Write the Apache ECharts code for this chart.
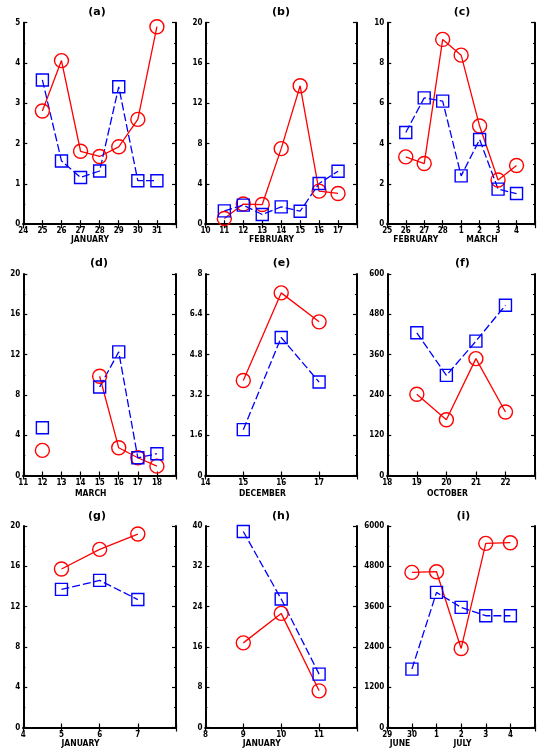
<!DOCTYPE html>
<html>
<head>
<meta charset="utf-8">
<script src="https://cdn.jsdelivr.net/npm/echarts@6/dist/echarts.min.js"></script>
<style>html,body{margin:0;padding:0;background:#fff}#c{width:538px;height:750px}</style>
</head>
<body>
<div id="c"></div>
<script>
// ---- data ----
const aTicks = ['24','25','26','27','28','29','30','31',''];
const aDays  = ['25','26','27','28','29','30','31'];
const aRed   = [2.81,4.06,1.81,1.68,1.92,2.60,4.90];
const aBlue  = [3.58,1.57,1.16,1.32,3.41,1.08,1.08];

const bTicks = ['10','11','12','13','14','15','16','17',''];
const bDays  = ['11','12','13','14','15','16','17'];
const bRed   = [0.56,2.00,1.95,7.50,13.74,3.28,3.05];
const bBlue  = [1.32,1.89,0.96,1.72,1.29,4.04,5.26];

const cTicks = ['25','26','27','28','1','2','3','4',''];
const cDays  = ['26','27','28','1','2','3','4'];
const cRed   = [3.34,3.01,9.17,8.39,4.87,2.19,2.91];
const cBlue  = [4.55,6.27,6.11,2.40,4.20,1.74,1.52];

const dTicks = ['11','12','13','14','15','16','17','18',''];
const dDays  = ['12','13','14','15','16','17','18'];
const dRed   = [2.49,'-','-',9.85,2.75,1.76,0.93];
const dBlue  = [4.74,'-','-',8.79,12.27,1.76,2.16];

const eTicks = ['14','15','16','17',''];
const eDays  = ['15','16','17'];
const eRed   = [3.77,7.25,6.10];
const eBlue  = [1.82,5.48,3.71];

const fTicks = ['18','19','20','21','22',''];
const fDays  = ['19','20','21','22'];
const fRed   = [242,166,348,189];
const fBlue  = [425,298,400,507];

const gTicks = ['4','5','6','7',''];
const gDays  = ['5','6','7'];
const gRed   = [15.73,17.68,19.20];
const gBlue  = [13.71,14.60,12.70];

const hTicks = ['8','9','10','11',''];
const hDays  = ['9','10','11'];
const hRed   = [16.8,22.65,7.28];
const hBlue  = [38.9,25.5,10.6];

const iTicks = ['29','30','1','2','3','4',''];
const iDays  = ['30','1','2','3','4'];
const iRed   = [4619,4639,2354,5483,5503];
const iBlue  = [1738,4023,3576,3328,3328];

const titles = ['(a)','(b)','(c)','(d)','(e)','(f)','(g)','(h)','(i)'];
const yMaxes = [5,20,10,20,8,600,20,40,6000];
const yIntervals = [1,4,2,4,1.6,120,4,8,1200];
const xTitles = [['JANUARY'],['FEBRUARY'],['FEBRUARY','MARCH'],['MARCH'],['DECEMBER'],['OCTOBER'],['JANUARY'],['JANUARY'],['JUNE','JULY']];

const panels = [
  [aTicks,aDays,aRed,aBlue],[bTicks,bDays,bRed,bBlue],[cTicks,cDays,cRed,cBlue],
  [dTicks,dDays,dRed,dBlue],[eTicks,eDays,eRed,eBlue],[fTicks,fDays,fRed,fBlue],
  [gTicks,gDays,gRed,gBlue],[hTicks,hDays,hRed,hBlue],[iTicks,iDays,iRed,iBlue]
];

// ---- layout ----
const colLeft = [23.3,205.4,387.3];
const colWidth = [152.7,151.6,151];
const rowTop = [22.7,274,526];
const plotH = 201.5;
const titleY = [12.5,263.3,515.7];
const titleX = [[97,281,462],[99,281.5,462.3],[97,281,463.3]];
const xTitleY = [239.3,493.3,743.3];
const xTitlePos = [[90],[271.6],[415.8,482],[90.7],[262.5],[447.5],[80.5],[261.7],[400,462.5]];

const FONT = '"DejaVu Sans Condensed", "DejaVu Sans", sans-serif';
const TFONT = '"DejaVu Sans", sans-serif';
const lab = {fontFamily:FONT,fontWeight:'bold',fontSize:8,color:'#000'};

const grids=[],xAxes=[],yAxes=[],series=[],graphics=[];
panels.forEach((p,k)=>{
  const r=Math.floor(k/3), c=k%3;
  const [ticks,days,red,blue]=p;
  grids.push({left:colLeft[c],top:rowTop[r],width:colWidth[c],height:plotH,show:false});
  const axBase = {
    type:'category',data:ticks,boundaryGap:false,gridIndex:k,
    axisLine:{show:true,lineStyle:{color:'#000',width:2}},
    axisTick:{show:true,inside:true,length:4,interval:0,lineStyle:{color:'#000',width:1.2}},
    splitLine:{show:false}
  };
  xAxes.push(Object.assign({},axBase,{position:'bottom',
    axisLabel:Object.assign({},lab,{interval:0,margin:3})}));
  xAxes.push(Object.assign({},axBase,{position:'top',axisLabel:{show:false}}));
  const yBase = {
    type:'value',gridIndex:k,min:0,max:yMaxes[k],interval:yIntervals[k],
    axisLine:{show:true,lineStyle:{color:'#000',width:2}},
    axisTick:{show:true,inside:true,length:4,lineStyle:{color:'#000',width:1.2}},
    minorTick:{show:true,splitNumber:2,length:2,lineStyle:{color:'#000',width:1}},
    splitLine:{show:false}
  };
  yAxes.push(Object.assign({},yBase,{position:'left',
    axisLabel:Object.assign({},lab,{margin:3,formatter:v=>String(+v.toFixed(2))})}));
  yAxes.push(Object.assign({},yBase,{position:'right',axisLabel:{show:false}}));
  series.push({
    type:'line',xAxisIndex:2*k,yAxisIndex:2*k,
    data:days.map((d,i)=>[d,red[i]]),
    symbol:'circle',symbolSize:14,showSymbol:true,connectNulls:false,
    itemStyle:{color:'rgba(0,0,0,0)',borderColor:'#ff0000',borderWidth:1.4},
    lineStyle:{color:'#ff0000',width:1.3,type:'solid'},
    animation:false,z:3
  });
  series.push({
    type:'line',xAxisIndex:2*k,yAxisIndex:2*k,
    data:days.map((d,i)=>[d,blue[i]]),
    symbol:'rect',symbolSize:12,showSymbol:true,connectNulls:false,
    itemStyle:{color:'rgba(0,0,0,0)',borderColor:'#0000ff',borderWidth:1.4},
    lineStyle:{color:'#0000ff',width:1.3,type:[8,3]},
    animation:false,z:3
  });
  graphics.push({type:'text',x:titleX[r][c],y:titleY[r],
    style:{text:titles[k],font:'bold 11px '+TFONT,fill:'#000',align:'center',verticalAlign:'middle'}});
  xTitles[k].forEach((t,j)=>{
    graphics.push({type:'text',x:xTitlePos[k][j],y:xTitleY[r],
      style:{text:t,font:'bold 8.5px '+FONT,fill:'#000',align:'center',verticalAlign:'middle'}});
  });
});

const chart = echarts.init(document.getElementById('c'),null,{renderer:'canvas'});
chart.setOption({
  animation:false,backgroundColor:'#fff',
  grid:grids,xAxis:xAxes,yAxis:yAxes,series:series,graphic:graphics
});
</script>
</body>
</html>
